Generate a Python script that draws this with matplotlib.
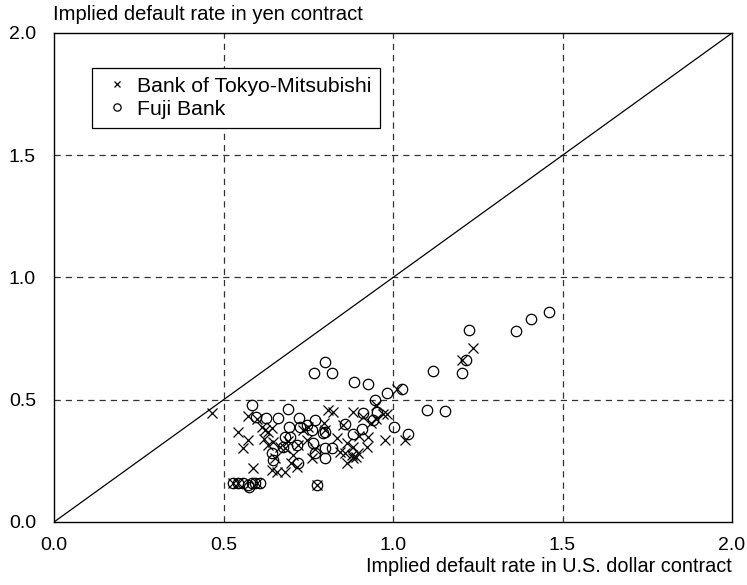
import matplotlib
matplotlib.use("Agg")
import matplotlib.pyplot as plt
import numpy as np

plt.rcParams['font.family'] = ['Liberation Sans', 'DejaVu Sans']

# Bank of Tokyo-Mitsubishi (x = U.S. dollar contract, y = yen contract)
tokyo_x = [0.466, 0.572, 0.543, 0.572, 0.558, 0.587, 0.614, 0.622, 0.631, 0.643,
           0.631, 0.646, 0.667, 0.681, 0.652, 0.643, 0.658, 0.681, 0.717, 0.720,
           0.705, 0.735, 0.749, 0.746, 0.776, 0.808, 0.796, 0.800, 0.823, 0.882,
           0.912, 0.970, 0.982, 0.853, 0.926, 0.976, 1.035, 0.835, 0.864, 0.882,
           0.923, 0.844, 0.858, 0.879, 0.897, 0.864, 0.882, 0.891, 0.935, 0.950,
           1.012, 1.204, 1.236, 0.528, 0.543, 0.600, 0.770, 0.700, 0.690, 0.760,
           0.620, 0.600, 0.900, 0.950]
tokyo_y = [0.447, 0.434, 0.369, 0.336, 0.303, 0.221, 0.389, 0.377, 0.369, 0.385,
           0.316, 0.328, 0.307, 0.303, 0.262, 0.213, 0.205, 0.205, 0.225, 0.316,
           0.275, 0.377, 0.389, 0.336, 0.152, 0.459, 0.406, 0.377, 0.451, 0.451,
           0.430, 0.440, 0.440, 0.398, 0.348, 0.336, 0.336, 0.344, 0.324, 0.307,
           0.307, 0.287, 0.283, 0.275, 0.283, 0.242, 0.262, 0.266, 0.405, 0.480,
           0.545, 0.664, 0.713, 0.160, 0.160, 0.160, 0.300, 0.240, 0.330, 0.260,
           0.340, 0.420, 0.350, 0.420]

# Fuji Bank
fuji_x = [1.224, 1.363, 1.407, 1.460, 1.215, 1.203, 1.118, 1.100, 1.153, 1.044,
          1.003, 0.800, 0.767, 0.820, 0.885, 0.926, 0.982, 1.027, 0.947, 0.912,
          0.953, 0.941, 0.858, 0.800, 0.882, 0.909, 0.800, 0.820, 0.800, 0.584,
          0.596, 0.625, 0.661, 0.690, 0.723, 0.770, 0.693, 0.726, 0.746, 0.761,
          0.794, 0.681, 0.696, 0.676, 0.717, 0.764, 0.770, 0.643, 0.646, 0.720,
          0.776, 0.528, 0.543, 0.558, 0.572, 0.584, 0.593, 0.608, 0.575]
fuji_y = [0.787, 0.780, 0.832, 0.857, 0.664, 0.611, 0.619, 0.459, 0.455, 0.361,
          0.389, 0.656, 0.610, 0.610, 0.574, 0.565, 0.529, 0.545, 0.500, 0.447,
          0.451, 0.418, 0.402, 0.369, 0.361, 0.381, 0.303, 0.303, 0.262, 0.480,
          0.430, 0.426, 0.426, 0.463, 0.426, 0.418, 0.389, 0.389, 0.398, 0.377,
          0.365, 0.348, 0.348, 0.307, 0.316, 0.324, 0.283, 0.283, 0.254, 0.242,
          0.152, 0.160, 0.160, 0.160, 0.152, 0.160, 0.160, 0.160, 0.145]

ticks = [0.0, 0.5, 1.0, 1.5, 2.0]

fig = plt.figure(figsize=(7.47, 5.85), dpi=100)
ax = fig.add_axes([0.0723, 0.1077, 0.9077, 0.8359])

for t in [0.5, 1.0, 1.5]:
    ax.axvline(t, color='black', linestyle=(0, (5, 4)), linewidth=0.9, alpha=0.8, zorder=1)
    ax.axhline(t, color='black', linestyle=(0, (5, 4)), linewidth=0.9, alpha=0.8, zorder=1)

ax.plot([0, 2], [0, 2], color='black', linewidth=0.9, zorder=2)

ax.plot(tokyo_x, tokyo_y, linestyle='none', marker='x', markersize=7,
        markeredgewidth=0.9, color='black', label='Bank of Tokyo-Mitsubishi', zorder=3)
ax.plot(fuji_x, fuji_y, linestyle='none', marker='o', markersize=7.5,
        markeredgewidth=0.9, markerfacecolor='none', markeredgecolor='black',
        label='Fuji Bank', zorder=3)

ax.set_xlim(0, 2)
ax.set_ylim(0, 2)
ax.set_xticks(ticks)
ax.set_yticks(ticks)
ax.set_xticklabels([f'{t:.1f}' for t in ticks])
ax.set_yticklabels([f'{t:.1f}' for t in ticks])
ax.tick_params(length=0, labelsize=14, pad=11)
ax.tick_params(axis='y', pad=13)
for s in ax.spines.values():
    s.set_linewidth(1.0)

fig.text(0.071, 0.966, 'Implied default rate in yen contract', fontsize=14.6,
         ha='left', va='baseline')
fig.text(0.98, 0.022, 'Implied default rate in U.S. dollar contract', fontsize=14.3,
         ha='right', va='baseline')

leg = ax.legend(loc='upper left', bbox_to_anchor=(0.056, 0.929), fontsize=15.3,
                frameon=True, fancybox=False, edgecolor='black', framealpha=1,
                handlelength=1.5, handletextpad=0.2, borderpad=0.42,
                borderaxespad=0, labelspacing=0.2, markerscale=0.7)
leg.get_frame().set_linewidth(0.9)

fig.savefig('out.png', dpi=100)
